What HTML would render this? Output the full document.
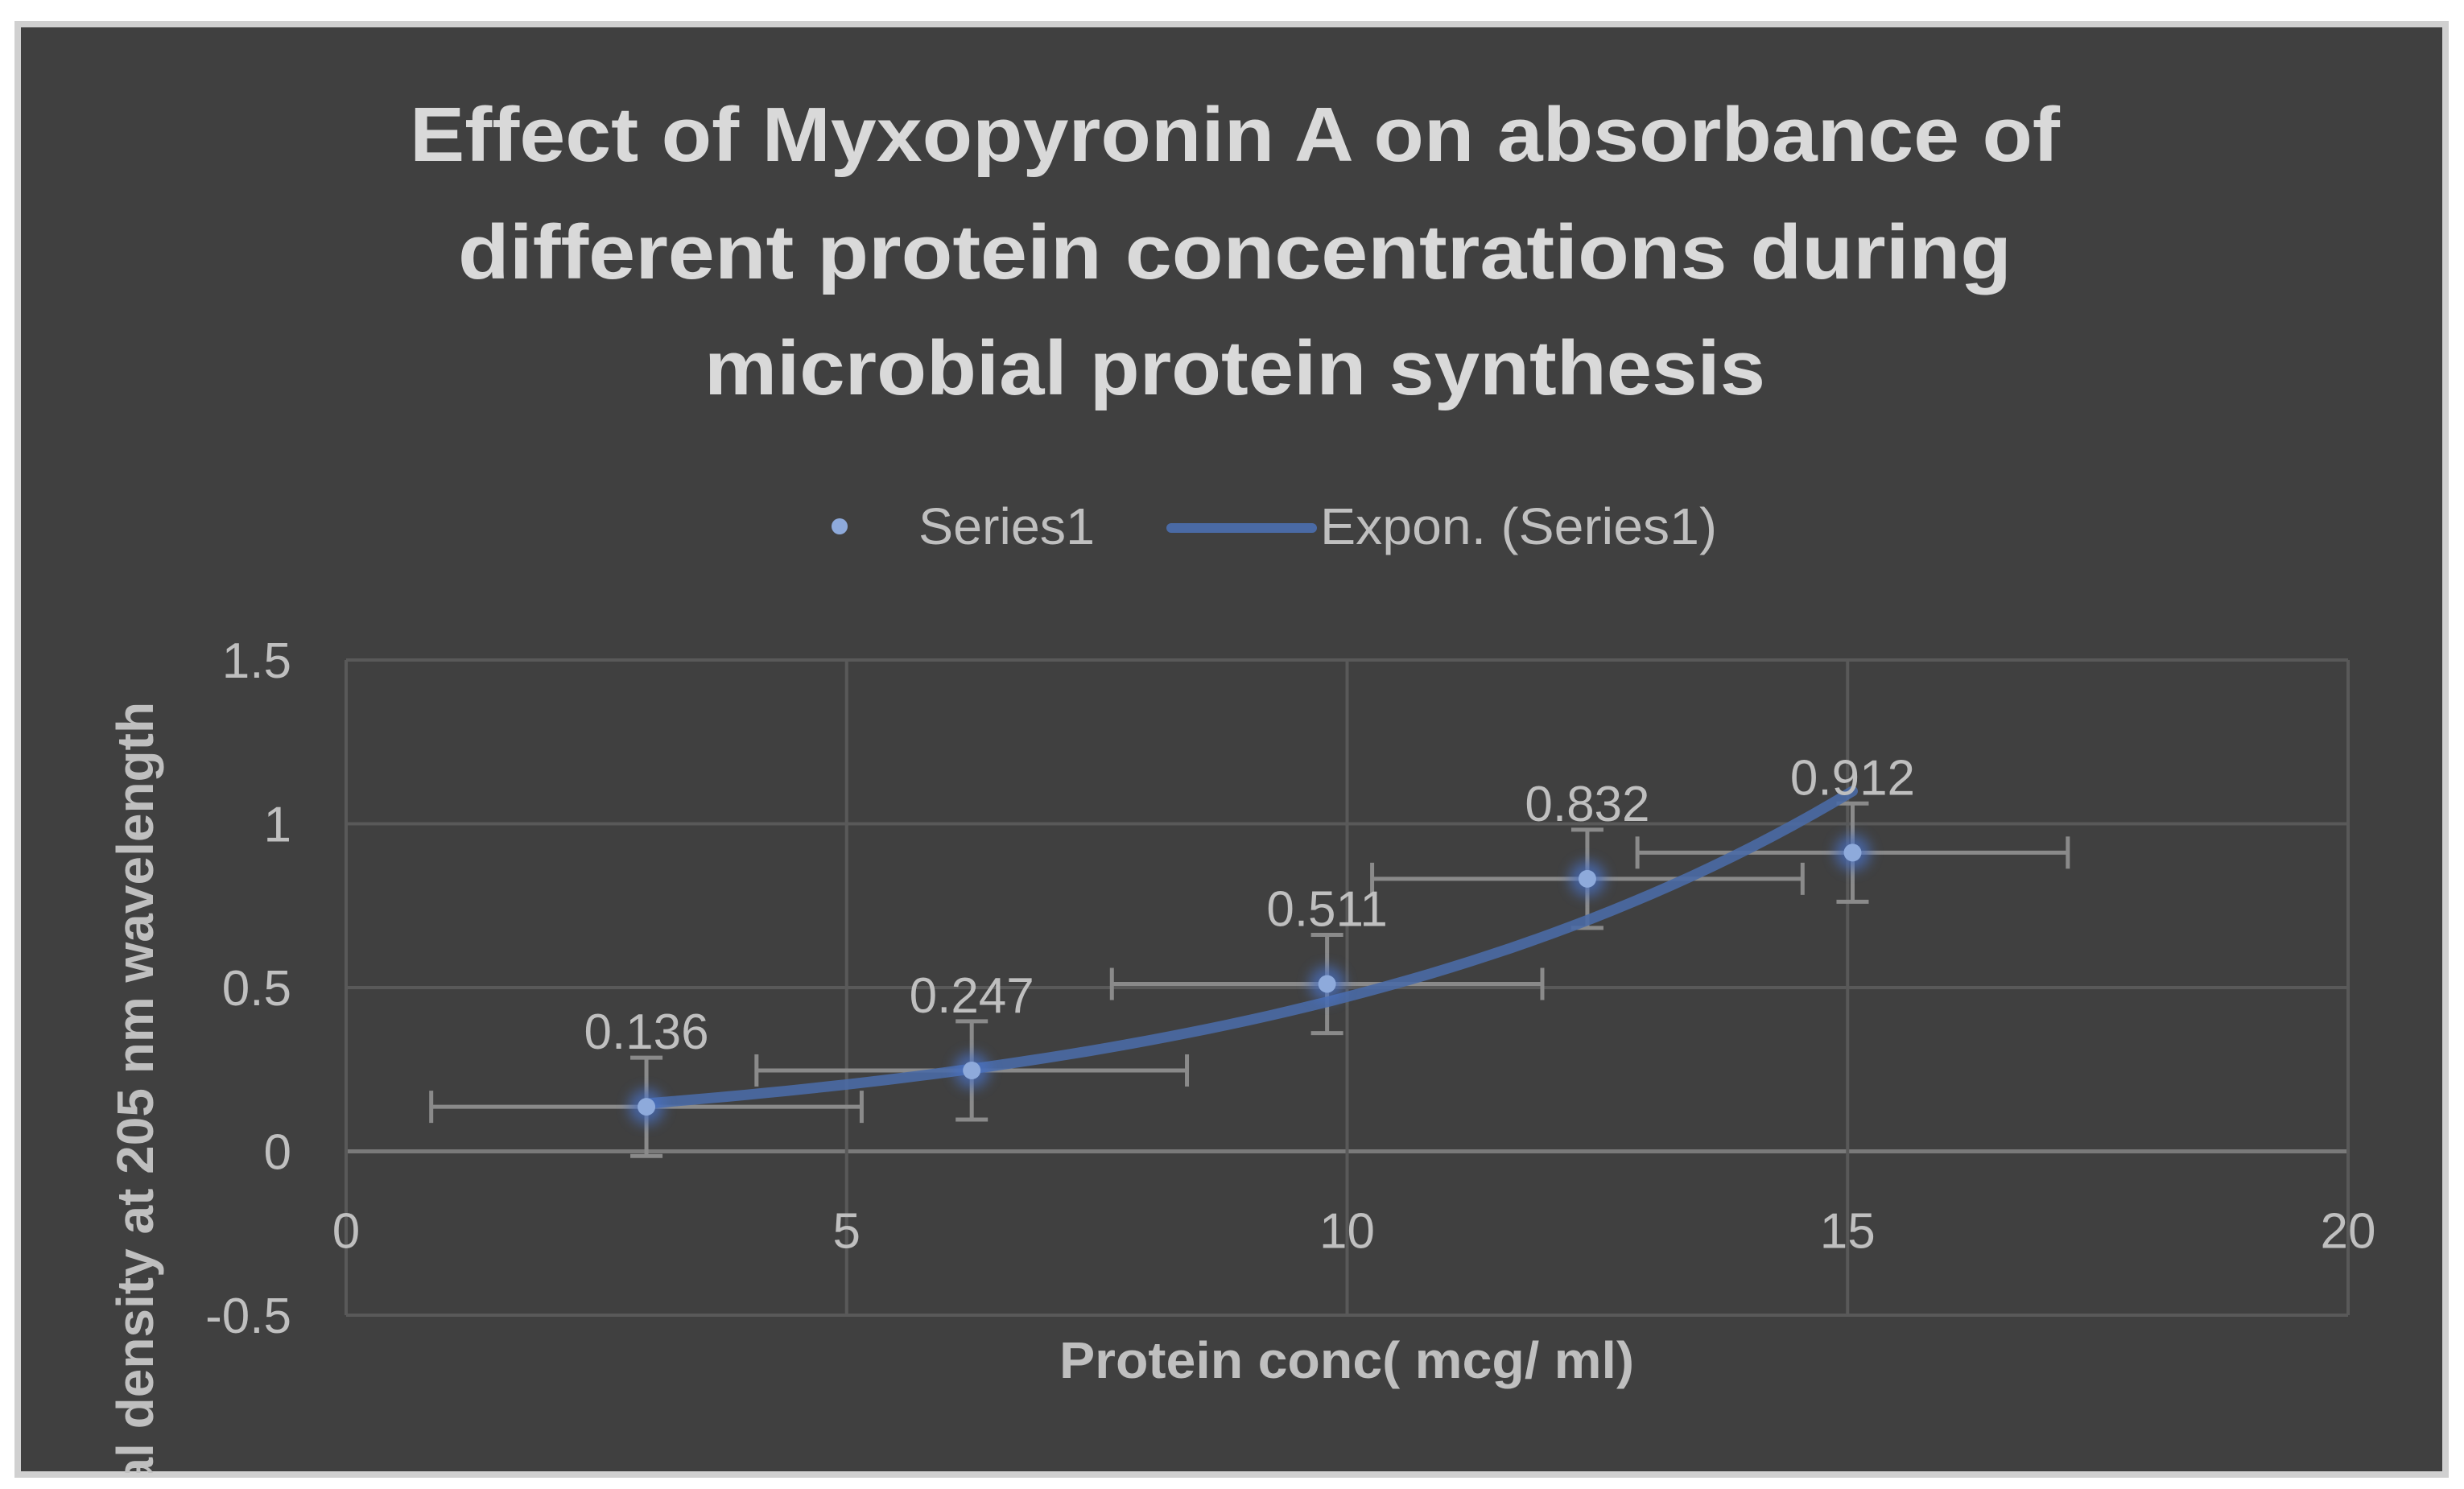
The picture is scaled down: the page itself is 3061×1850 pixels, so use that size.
<!DOCTYPE html>
<html><head><meta charset="utf-8"><style>
html,body{margin:0;padding:0;background:#fff;width:3061px;height:1850px;overflow:hidden;}
svg{display:block;font-family:"Liberation Sans",sans-serif;overflow:hidden;}
</style></head><body>
<svg width="3061" height="1850" viewBox="0 0 3061 1850">
<defs>
<filter id="glow" x="-2" y="-2" width="5" height="5"><feGaussianBlur stdDeviation="8"/></filter>
<clipPath id="frameclip"><rect x="28" y="34" width="3008" height="1796"/></clipPath>
</defs>
<rect x="0" y="0" width="3061" height="1850" fill="#ffffff"/>
<rect x="22" y="30" width="3016" height="1802" fill="#404040" stroke="#d0d0d0" stroke-width="8"/>
<g fill="#d9d9d9" font-weight="bold" font-size="96" text-anchor="middle">
<text x="1534" y="200" textLength="2050" lengthAdjust="spacingAndGlyphs">Effect of Myxopyronin A on absorbance of</text>
<text x="1534" y="346" textLength="1930" lengthAdjust="spacingAndGlyphs">different  protein concentrations during</text>
<text x="1534" y="490" textLength="1318" lengthAdjust="spacingAndGlyphs">microbial protein synthesis</text>
</g>
<g>
<circle cx="1043" cy="654" r="10" fill="#8eaadb"/>
<text x="1141" y="676" font-size="64" fill="#bfbfbf" textLength="219" lengthAdjust="spacingAndGlyphs">Series1</text>
<line x1="1455" y1="656" x2="1630" y2="656" stroke="#4a6aa5" stroke-width="12" stroke-linecap="round"/>
<text x="1640" y="676" font-size="64" fill="#bfbfbf" textLength="493" lengthAdjust="spacingAndGlyphs">Expon. (Series1)</text>
</g>
<g id="plot"></g>
<text x="1673" y="1712" font-size="64" font-weight="bold" fill="#bfbfbf" text-anchor="middle" textLength="714" lengthAdjust="spacingAndGlyphs">Protein conc( mcg/ ml)</text>
<g clip-path="url(#frameclip)">
<text transform="translate(190,1441) rotate(-90)" font-size="64" font-weight="bold" fill="#bfbfbf" text-anchor="middle">Optical density at 205 nm wavelength</text>
</g>
</svg>
<script>
const xVals=[3.0,6.25,9.8,12.4,15.05];
const yVals=[0.136,0.247,0.511,0.832,0.912];
const xErr=[2.15,2.15,2.15,2.15,2.15];
const yErr=[0.15,0.15,0.15,0.15,0.15];
const xTicks=[0,5,10,15,20];
const yTicks=[-0.5,0,0.5,1,1.5];
const yTickLabels=["-0.5","0","0.5","1","1.5"];

const NS="http://www.w3.org/2000/svg";
const L=430,R=2917,T=820,B=1634;
const xs=v=>L+(v-0)/(20-0)*(R-L);
const ys=v=>B-(v+0.5)/(1.5+0.5)*(B-T);
const g=document.getElementById('plot');
function mk(tag,attrs,parent){const e=document.createElementNS(NS,tag);for(const k in attrs)e.setAttribute(k,attrs[k]);(parent||g).appendChild(e);return e;}

yTicks.forEach((t,i)=>{
  const ln=mk('line',{x1:L,x2:R,y1:ys(t),y2:ys(t),stroke:t===0?'#7a7a7a':'#595959','stroke-width':t===0?5:4});
  
  
  const tx=mk('text',{x:362,y:ys(t)+22,'font-size':62,fill:'#bfbfbf','text-anchor':'end'});
  tx.textContent=yTickLabels[i];
  
  
});
xTicks.forEach(t=>{
  const ln=mk('line',{x1:xs(t),x2:xs(t),y1:T,y2:B,stroke:'#595959','stroke-width':4});
  
  
  const tx=mk('text',{x:xs(t),y:ys(0)+120,'font-size':62,fill:'#bfbfbf','text-anchor':'middle'});
  tx.textContent=String(t);
  
  
});

let n=xVals.length,sx=0,sy=0,sxx=0,sxy=0;
for(let i=0;i<n;i++){const ly=Math.log(yVals[i]);sx+=xVals[i];sy+=ly;sxx+=xVals[i]*xVals[i];sxy+=xVals[i]*ly;}
const b=(n*sxy-sx*sy)/(n*sxx-sx*sx),a=Math.exp((sy-b*sx)/n);
const x0=Math.min(...xVals),x1=Math.max(...xVals);
let d='';
for(let k=0;k<=60;k++){const x=x0+(x1-x0)*k/60;d+=(k?'L':'M')+xs(x).toFixed(1)+' '+ys(a*Math.exp(b*x)).toFixed(1);}

xVals.forEach((x,i)=>{
  const y=yVals[i];
  const eb=mk('g',{stroke:'#8a8a8a','stroke-width':5,fill:'none'});
  
  
  mk('line',{x1:xs(x-xErr[i]),x2:xs(x+xErr[i]),y1:ys(y),y2:ys(y)},eb);
  mk('line',{x1:xs(x-xErr[i]),x2:xs(x-xErr[i]),y1:ys(y)-20,y2:ys(y)+20},eb);
  mk('line',{x1:xs(x+xErr[i]),x2:xs(x+xErr[i]),y1:ys(y)-20,y2:ys(y)+20},eb);
  mk('line',{x1:xs(x),x2:xs(x),y1:ys(y-yErr[i]),y2:ys(y+yErr[i])},eb);
  mk('line',{x1:xs(x)-20,x2:xs(x)+20,y1:ys(y-yErr[i]),y2:ys(y-yErr[i])},eb);
  mk('line',{x1:xs(x)-20,x2:xs(x)+20,y1:ys(y+yErr[i]),y2:ys(y+yErr[i])},eb);
});

const tr=mk('path',{d:d,fill:'none',stroke:'#4a6aa5','stroke-width':13,'stroke-linecap':'round','stroke-opacity':0.9});



xVals.forEach((x,i)=>{
  const y=yVals[i];
  const gl=mk('circle',{cx:xs(x),cy:ys(y),r:22,fill:'#4a72c8',opacity:0.7,filter:'url(#glow)'});
  
  
  const p=mk('circle',{cx:xs(x),cy:ys(y),r:11,fill:'#8eaadb'});
  
  
  const lb=mk('text',{x:xs(x),y:ys(y)-72,'font-size':62,fill:'#bfbfbf','text-anchor':'middle'});
  lb.textContent=y.toFixed(3);
  
  
});
</script>
</body></html>
